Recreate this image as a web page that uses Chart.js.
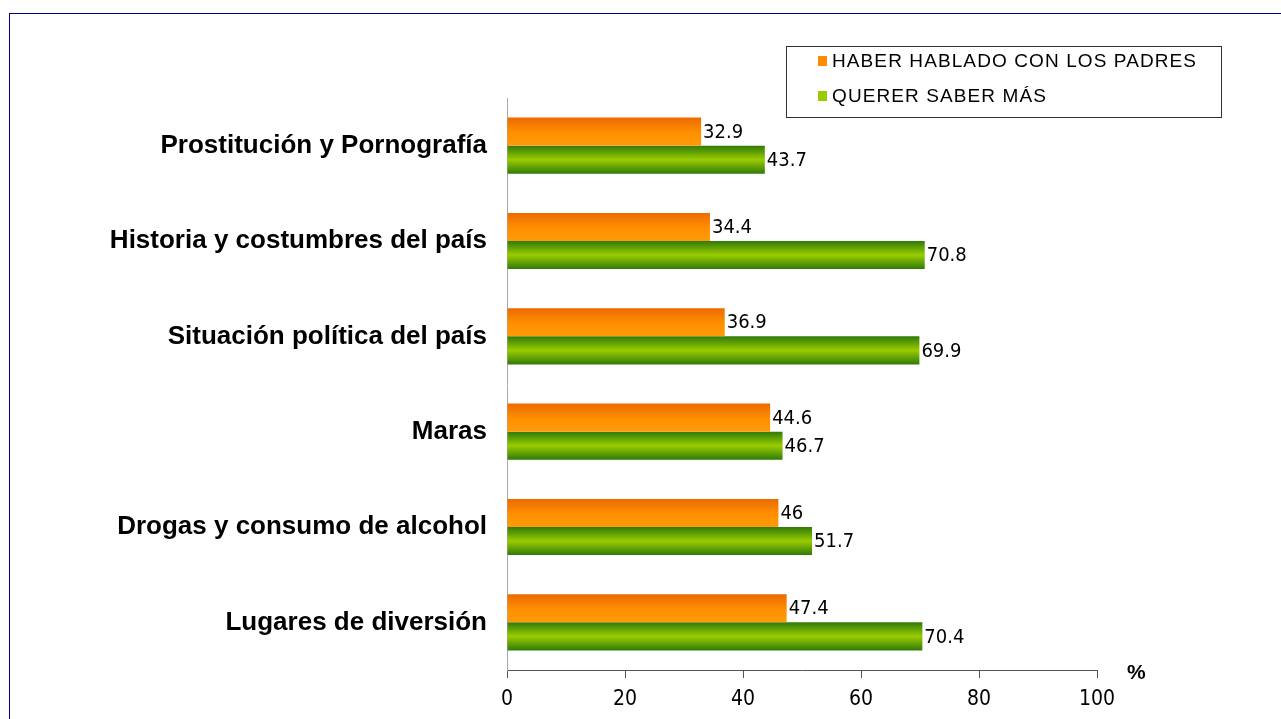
<!DOCTYPE html>
<html>
<head>
<meta charset="utf-8">
<script src="https://cdn.jsdelivr.net/npm/chart.js@4.4.1/dist/chart.umd.min.js"></script>
<style>
  html, body { margin: 0; padding: 0; background: #fff; }
  #wrap { position: relative; width: 1281px; height: 719px; }
  #frame { position: absolute; left: 9px; top: 13px; right: 0; bottom: 0;
           border-left: 1px solid #000080; border-top: 1px solid #000080; }
  #pct { position: absolute; left: 1127px; top: 660px; font: bold 21px "Liberation Sans", Arial, sans-serif; color: #000; }
  canvas { position: absolute; left: 0; top: 0; }
</style>
</head>
<body>
<div id="wrap">
  <div id="frame"></div>
  <canvas id="grafico" width="1281" height="719"></canvas>
  <div id="pct">%</div>
</div>
<script>
// datos
const categorias = [
  'Prostitución y Pornografía',
  'Historia y costumbres del país',
  'Situación política del país',
  'Maras',
  'Drogas y consumo de alcohol',
  'Lugares de diversión'
]
const hablado = [32.9, 34.4, 36.9, 44.6, 46, 47.4]
const saberMas = [43.7, 70.8, 69.9, 46.7, 51.7, 70.4]
const ticksX = [0, 20, 40, 60, 80, 100]

const nombres = ['HABER HABLADO CON LOS PADRES', 'QUERER SABER MÁS']
const coloresLeyenda = ['#ff8c00', '#99cc00']

// degradado por barra, segun la posicion real de cada barra
const degradados = {
  id: 'degradados',
  beforeDatasetsDraw(chart) {
    const ctx = chart.ctx
    chart.data.datasets.forEach((ds, i) => {
      chart.getDatasetMeta(i).data.forEach(bar => {
        const top = bar.y - bar.height / 2
        const g = ctx.createLinearGradient(0, top, 0, top + bar.height)
        if (i === 0) {
          g.addColorStop(0, '#ec6a00')
          g.addColorStop(0.55, '#ff9000')
          g.addColorStop(1, '#ff9a0a')
        } else {
          g.addColorStop(0, '#2f7a08')
          g.addColorStop(0.5, '#9acc00')
          g.addColorStop(1, '#2f7a08')
        }
        bar.options = Object.assign({}, bar.options, { backgroundColor: g })
      })
    })
  }
}

// etiquetas de valores
const etiquetas = {
  id: 'etiquetas',
  afterDatasetsDraw(chart) {
    const ctx = chart.ctx
    ctx.save()
    ctx.font = '20px "DejaVu Sans Condensed", "DejaVu Sans", sans-serif'
    ctx.fillStyle = '#000'
    ctx.textAlign = 'left'
    ctx.textBaseline = 'middle'
    chart.data.datasets.forEach((ds, i) => {
      chart.getDatasetMeta(i).data.forEach((bar, j) => {
        ctx.fillText(String(ds.data[j]), bar.x + 2, bar.y + 1)
      })
    })
    ctx.restore()
  }
}

// leyenda con recuadro
const leyenda = {
  id: 'leyenda',
  afterDraw(chart) {
    const ctx = chart.ctx
    const x = chart.chartArea.right - 311, y = 46
    ctx.save()
    ctx.strokeStyle = '#333'
    ctx.lineWidth = 1
    ctx.strokeRect(x + 0.5, y + 0.5, 435, 71)
    ctx.font = '19px "Liberation Sans", Arial, sans-serif'
    ctx.letterSpacing = '1.1px'
    ctx.textBaseline = 'middle'
    nombres.forEach((n, i) => {
      const cy = y + 15 + i * 35
      ctx.fillStyle = coloresLeyenda[i]
      ctx.fillRect(x + 32, cy - 5, 9, 10)
      ctx.fillStyle = '#000'
      ctx.fillText(n, x + 46, cy + 1)
    })
    ctx.restore()
  }
}

const ctx = document.getElementById('grafico').getContext('2d')
new Chart(ctx, {
  type: 'bar',
  data: {
    labels: categorias,
    datasets: [
      { label: nombres[0], data: hablado, backgroundColor: coloresLeyenda[0] },
      { label: nombres[1], data: saberMas, backgroundColor: coloresLeyenda[1] }
    ]
  },
  options: {
    indexAxis: 'y',
    responsive: false,
    animation: false,
    layout: { padding: { top: 98, right: 184, left: 0, bottom: 0 } },
    datasets: { bar: { categoryPercentage: 0.59, barPercentage: 1.0, borderWidth: 0 } },
    plugins: { legend: { display: false }, tooltip: { enabled: false } },
    scales: {
      x: {
        min: 0, max: 100,
        afterBuildTicks: s => { s.ticks = ticksX.map(v => ({ value: v })) },
        afterFit: s => { s.height = 49 },
        grid: { drawOnChartArea: false, drawTicks: true, tickLength: 8, color: '#555' },
        border: { display: true, color: '#555' },
        ticks: { color: '#000', padding: 9,
                 font: { family: '"DejaVu Sans Condensed", "DejaVu Sans", sans-serif', size: 21 } }
      },
      y: {
        afterFit: s => { s.width = 507 },
        grid: { display: false },
        border: { display: true, color: '#aaa' },
        ticks: { color: '#000', padding: 12,
                 font: { family: '"Liberation Sans", Arial, sans-serif', size: 26, weight: 'bold' } }
      }
    }
  },
  plugins: [degradados, etiquetas, leyenda]
})
</script>
</body>
</html>
